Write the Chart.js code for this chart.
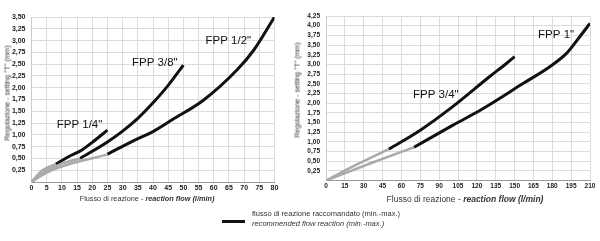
<!DOCTYPE html>
<html>
<head>
<meta charset="utf-8">
<script src="https://cdn.jsdelivr.net/npm/chart.js@4/dist/chart.umd.min.js"></script>
<style>
  body { margin: 0; background: #fff; width: 600px; height: 241px; overflow: hidden; position: relative; font-family: "Liberation Sans", Arial, sans-serif; color: #222; }
  .box { position: absolute; }
  .ytitle { position: absolute; white-space: nowrap; transform: translate(-50%, -50%) rotate(-90deg); font-size: 7px; color: #333; }
  .xtitle { position: absolute; white-space: nowrap; transform: translateX(-50%); color: #333; }
  .xtitle b { font-style: italic; }
  .legline { position: absolute; left: 222px; top: 220px; width: 23px; height: 3px; background: #111; }
  .legtxt { position: absolute; left: 252px; font-size: 7.5px; color: #333; white-space: nowrap; }
</style>
</head>
<body>
<div class="box" style="left:0;top:0;width:290px;height:195px"><canvas id="chartSmall"></canvas></div>
<div class="box" style="left:290px;top:0;width:310px;height:195px"><canvas id="chartLarge"></canvas></div>

<div class="ytitle" style="left:7px;top:93px">Regolazione - setting "T" (mm)</div>
<div class="ytitle" style="left:297px;top:90px">Regolazione - setting "T" (mm)</div>
<div class="xtitle" style="left:147px;top:194px;font-size:7.3px">Flusso di reazione - <b>reaction flow (l/min)</b></div>
<div class="xtitle" style="left:465px;top:194px;font-size:8.5px">Flusso di reazione - <b>reaction flow (l/min)</b></div>

<div class="legline"></div>
<div class="legtxt" style="top:209px">flusso di reazione raccomandato (min.-max.)</div>
<div class="legtxt" style="top:219px;font-style:italic">recommended flow reaction (min.-max.)</div>

<script>
// left chart: FPP 1/4", 3/8", 1/2"  (flow l/min -> setting mm)
var q14GrayX = [0, 3.4, 8];
var q14GrayY = [0, 0.24, 0.38];
var q14X = [8, 12, 16.6, 20, 25];
var q14Y = [0.38, 0.53, 0.68, 0.84, 1.10];

var q38GrayX = [0, 5, 10, 16];
var q38GrayY = [0, 0.24, 0.39, 0.50];
var q38X = [16, 25, 30, 35, 40, 45, 50];
var q38Y = [0.50, 0.85, 1.08, 1.35, 1.68, 2.05, 2.48];

var q12GrayX = [0, 5, 12, 25];
var q12GrayY = [0, 0.20, 0.37, 0.58];
var q12X = [25, 34, 40, 46.3, 56.7, 67.7, 73.2, 80];
var q12Y = [0.59, 0.89, 1.07, 1.32, 1.74, 2.38, 2.80, 3.50];

// right chart: FPP 3/4", 1"
var q34GrayX = [0, 25, 50];
var q34GrayY = [0, 0.42, 0.81];
var q34X = [50, 75, 100, 130, 143.7, 150];
var q34Y = [0.81, 1.30, 1.89, 2.68, 3.03, 3.20];

var q1GrayX = [0, 35, 70];
var q1GrayY = [0, 0.44, 0.86];
var q1X = [70, 101, 124, 157, 178, 191.5, 202, 210];
var q1Y = [0.86, 1.43, 1.84, 2.51, 2.94, 3.29, 3.72, 4.06];

var smallLabels = ['FPP 1/4"', 'FPP 3/8"', 'FPP 1/2"'];
var largeLabels = ['FPP 3/4"', 'FPP 1"'];

function pts(xs, ys) {
  return xs.map(function(x, i) { return {x: x, y: ys[i]}; });
}

function seg(xs, ys, black) {
  return {
    data: pts(xs, ys),
    showLine: true,
    borderColor: black ? '#111' : '#aaa',
    borderWidth: black ? 3 : 2.5,
    pointRadius: 0,
    cubicInterpolationMode: 'monotone',
    borderCapStyle: 'butt'
  };
}

// draws the curve names at given data coordinates
var namePlugin = {
  id: 'names',
  afterDatasetsDraw: function(chart, args, opts) {
    var ctx = chart.ctx;
    ctx.save();
    ctx.font = '11.5px "Liberation Sans", Arial, sans-serif';
    ctx.fillStyle = '#111';
    ctx.textBaseline = 'middle';
    opts.items.forEach(function(it) {
      ctx.fillText(it.text, chart.scales.x.getPixelForValue(it.x), chart.scales.y.getPixelForValue(it.y));
    });
    ctx.restore();
  }
};

function makeChart(id, sets, xMax, xStep, yMax, yW, xH, pad, tickSize, names) {
  var tickFont = {family: '"Liberation Sans Narrow", "Liberation Sans", Arial', size: tickSize, weight: 'bold'};
  return new Chart(document.getElementById(id), {
    type: 'scatter',
    data: {datasets: sets},
    options: {
      responsive: true,
      maintainAspectRatio: false,
      animation: false,
      layout: {padding: pad},
      plugins: {legend: {display: false}, tooltip: {enabled: false}, names: {items: names}},
      scales: {
        x: {
          min: 0, max: xMax,
          afterFit: function(s) { s.height = xH; },
          grid: {color: '#dcdcdc', drawTicks: false},
          border: {color: '#999'},
          ticks: {stepSize: xStep, padding: 2, color: '#222', font: tickFont, maxRotation: 0, autoSkip: false}
        },
        y: {
          min: 0, max: yMax,
          afterFit: function(s) { s.width = yW; },
          grid: {color: '#dcdcdc', drawTicks: false},
          border: {color: '#ccc'},
          ticks: {
            stepSize: 0.25, padding: 6, color: '#222', font: tickFont, autoSkip: false,
            callback: function(v) { return v === 0 ? '' : v.toFixed(2).replace('.', ','); }
          }
        }
      }
    },
    plugins: [namePlugin]
  });
}

makeChart('chartSmall', [
  seg(q14GrayX, q14GrayY, false), seg(q38GrayX, q38GrayY, false), seg(q12GrayX, q12GrayY, false),
  seg(q14X, q14Y, true), seg(q38X, q38Y, true), seg(q12X, q12Y, true)
], 80, 5, 3.5, 31.5, 13, {top: 17, right: 15.5, left: 0, bottom: 0}, 7, [
  {text: smallLabels[0], x: 8.3, y: 1.21},
  {text: smallLabels[1], x: 33.1, y: 2.52},
  {text: smallLabels[2], x: 57.3, y: 2.99}
]);

makeChart('chartLarge', [
  seg(q34GrayX, q34GrayY, false), seg(q1GrayX, q1GrayY, false),
  seg(q34X, q34Y, true), seg(q1X, q1Y, true)
], 210, 15, 4.25, 36, 14.5, {top: 16, right: 10, left: 0, bottom: 0}, 6.5, [
  {text: largeLabels[0], x: 69.2, y: 2.21},
  {text: largeLabels[1], x: 168.7, y: 3.76}
]);
</script>
</body>
</html>
